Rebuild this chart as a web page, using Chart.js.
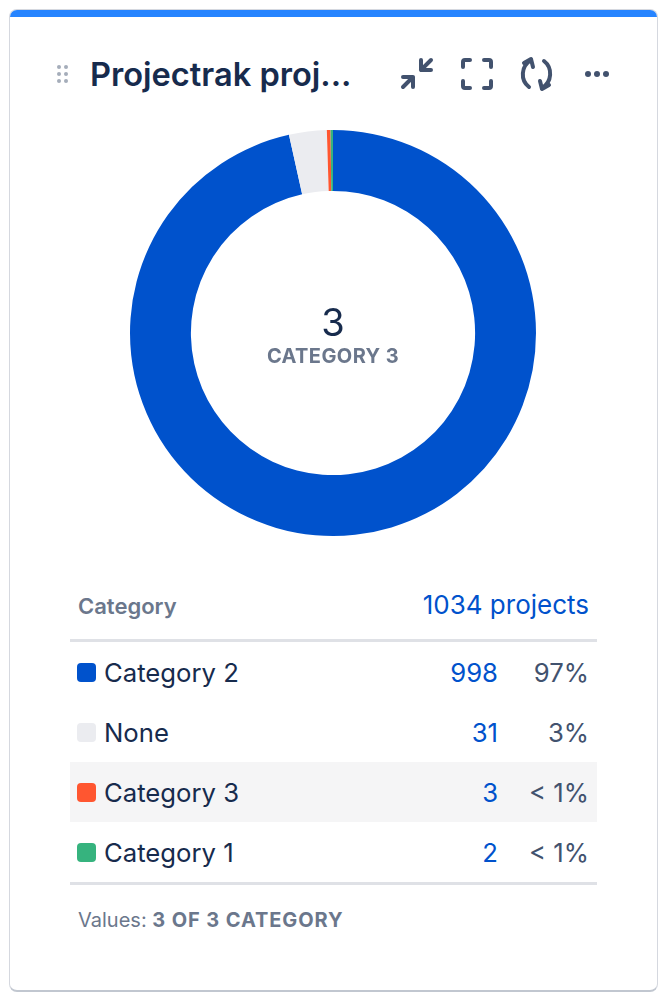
<!DOCTYPE html>
<html>
<head>
<meta charset="utf-8">
<script src="https://cdn.jsdelivr.net/npm/chart.js@4"></script>
<style>
  html, body { margin: 0; padding: 0; background: #fff; font-family: Inter, sans-serif; }
  #page { position: relative; width: 668px; height: 999px; overflow: hidden; }
  #card { position: absolute; left: 9px; top: 9px; width: 647px; height: 980px; background: #fff;
          border: 1px solid #d5d8df; border-bottom: 2px solid #c1c7d0; border-radius: 8px; overflow: hidden; }
  #topbar { position: absolute; left: 0; top: 0; right: 0; height: 7px; background: #2684ff; }
  #title { position: absolute; left: 90px; top: 53px; font-size: 32.6px; line-height: 42px; font-weight: 600; color: #172b4d; white-space: nowrap; }
  .icon { position: absolute; }
  #chartBox { position: absolute; left: 129px; top: 129px; width: 408px; height: 408px; }
  #centerNum { position: absolute; left: 133px; width: 400px; top: 300px; text-align: center; font-size: 38px; line-height: 44px; color: #172b4d; }
  #centerLabel { position: absolute; left: 133px; width: 400px; top: 344px; text-align: center; font-size: 20px; line-height: 24px; font-weight: 700; color: #6b778c; letter-spacing: .4px; }
  #headLeft { position: absolute; left: 78px; top: 592px; font-size: 22px; line-height: 28px; font-weight: 600; color: #6b778c; }
  #headRight { position: absolute; right: 79px; top: 589px; font-size: 26px; line-height: 32px; color: #0052cc; }
  #rows { position: absolute; left: 70px; top: 639px; width: 527px; border-top: 3px solid #dfe1e6; border-bottom: 3px solid #dfe1e6; }
  .row { position: relative; height: 60px; line-height: 62px; font-size: 25.7px; color: #172b4d; }
  .row.hi { background: #f5f5f6; }
  .sw { position: absolute; left: 7px; top: 21px; width: 19px; height: 19px; border-radius: 4px; }
  .name { position: absolute; left: 34px; top: 0; }
  .count { position: absolute; right: 99px; top: 0; color: #0052cc; }
  .pct { position: absolute; right: 8px; top: 0; color: #42526e; }
  #foot { position: absolute; left: 78px; top: 907px; font-size: 20px; line-height: 26px; color: #6b778c; }
  #foot b { font-weight: 700; letter-spacing: .9px; }
</style>
</head>
<body>
<div id="page">
  <div id="card"><div id="topbar"></div></div>

  <svg class="icon" style="left:56px;top:64px" width="14" height="20" fill="#a5adba">
    <circle cx="3" cy="3" r="2"/><circle cx="10" cy="3" r="2"/>
    <circle cx="3" cy="10" r="2"/><circle cx="10" cy="10" r="2"/>
    <circle cx="3" cy="17" r="2"/><circle cx="10" cy="17" r="2"/>
  </svg>
  <div id="title">Projectrak proj...</div>

  <svg class="icon" style="left:398px;top:56px" width="38" height="36" fill="none" stroke="#42526e" stroke-width="4" stroke-linecap="round" stroke-linejoin="round">
    <path d="M5 31 L15 21 M5 21 H15 V31"/>
    <path d="M33 4 L23 14 M23 4 V14 H33"/>
  </svg>
  <svg class="icon" style="left:459px;top:56px" width="36" height="36" fill="none" stroke="#42526e" stroke-width="4" stroke-linecap="round" stroke-linejoin="round">
    <path d="M11 4 H6 Q4 4 4 6 V11"/>
    <path d="M25 4 H30 Q32 4 32 6 V11"/>
    <path d="M4 25 V30 Q4 32 6 32 H11"/>
    <path d="M32 25 V30 Q32 32 30 32 H25"/>
  </svg>
  <svg class="icon" style="left:518px;top:55px" width="38" height="38" fill="none" stroke="#42526e" stroke-width="4" stroke-linecap="round" stroke-linejoin="round">
    <path d="M13 5 C3 11 2 25 11 32"/>
    <path d="M6 8 L13 4 L15 12"/>
    <path d="M24 33 C34 27 35 13 26 6"/>
    <path d="M31 30 L24 34 L22 26"/>
  </svg>
  <svg class="icon" style="left:584px;top:69px" width="26" height="10" fill="#42526e">
    <circle cx="4" cy="5" r="3"/><circle cx="13" cy="5" r="3"/><circle cx="22" cy="5" r="3"/>
  </svg>

  <div id="chartBox"><canvas id="donut"></canvas></div>
  <div id="centerNum">3</div>
  <div id="centerLabel">CATEGORY 3</div>

  <div id="headLeft">Category</div>
  <div id="headRight">1034 projects</div>
  <div id="rows"></div>
  <div id="foot">Values: <b>3 OF 3 CATEGORY</b></div>
</div>

<script>
const categories = ['Category 2', 'None', 'Category 3', 'Category 1'];
const projectCounts = [998, 31, 3, 2];
const percentLabels = ['97%', '3%', '< 1%', '< 1%'];
const sliceColors = ['#0052cc', '#ebecf0', '#ff5630', '#36b37e'];
const highlightedRow = 'Category 3';

const rows = document.getElementById('rows');
categories.forEach((name, i) => {
    const row = document.createElement('div');
    row.className = name === highlightedRow ? 'row hi' : 'row';
    const sw = document.createElement('span');
    sw.className = 'sw';
    sw.style.background = sliceColors[i];
    row.appendChild(sw);
    [['name', name], ['count', projectCounts[i]], ['pct', percentLabels[i]]].forEach(([cls, text]) => {
        const cell = document.createElement('span');
        cell.className = cls;
        cell.textContent = text;
        row.appendChild(cell);
    });
    rows.appendChild(row);
});

const ctx = document.getElementById('donut').getContext('2d');
const donut = new Chart(ctx, {
    type: 'doughnut',
    data: {
        labels: categories,
        datasets: [{
            data: projectCounts,
            backgroundColor: sliceColors,
            borderWidth: 0
        }]
    },
    options: {
        maintainAspectRatio: false,
        responsive: true,
        animation: false,
        cutout: '70%',
        layout: { padding: 1 },
        plugins: {
            legend: { display: false },
            title: { display: false },
            tooltip: { enabled: false }
        }
    }
});
</script>
</body>
</html>
